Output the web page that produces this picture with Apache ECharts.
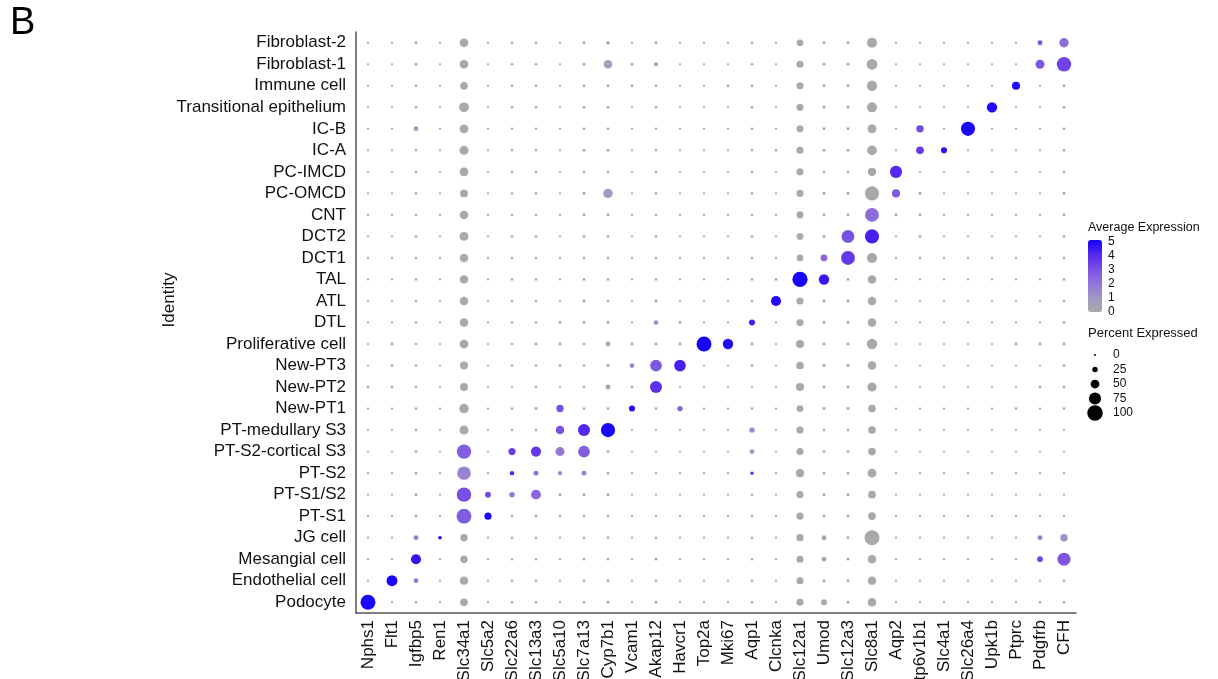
<!DOCTYPE html>
<html>
<head>
<meta charset="utf-8">
<script src="https://cdn.jsdelivr.net/npm/echarts@6/dist/echarts.min.js"></script>
<style>
  html, body { margin: 0; padding: 0; background: #fff; }
  #chart { width: 1218px; height: 679px; }
</style>
</head>
<body>
<div id="chart"></div>
<script>
// genes on x, identities on y (top to bottom)
const genes = ["Nphs1", "Flt1", "Igfbp5", "Ren1", "Slc34a1", "Slc5a2", "Slc22a6", "Slc13a3", "Slc5a10", "Slc7a13",
  "Cyp7b1", "Vcam1", "Akap12", "Havcr1", "Top2a", "Mki67", "Aqp1", "Clcnka", "Slc12a1", "Umod",
  "Slc12a3", "Slc8a1", "Aqp2", "Atp6v1b1", "Slc4a1", "Slc26a4", "Upk1b", "Ptprc", "Pdgfrb", "CFH"];

const identities = ["Fibroblast-2", "Fibroblast-1", "Immune cell", "Transitional epithelium", "IC-B", "IC-A",
  "PC-IMCD", "PC-OMCD", "CNT", "DCT2", "DCT1", "TAL", "ATL", "DTL", "Proliferative cell", "New-PT3",
  "New-PT2", "New-PT1", "PT-medullary S3", "PT-S2-cortical S3", "PT-S2", "PT-S1/S2", "PT-S1", "JG cell",
  "Mesangial cell", "Endothelial cell", "Podocyte"];

// percent expressed, one row per identity (same order as identities)
const pctExpressed = [
  [2,2,6,2,50,2,5,5,2,6, 12,2,6,2,2,2,5,2,35,7, 7,60,2,2,2,2,2,2,22,55],
  [2,2,6,2,50,2,4,4,2,6, 50,6,15,2,2,2,4,2,38,7, 7,65,2,2,2,2,2,2,52,92],
  [2,2,4,2,42,2,4,4,2,5, 6,6,4,2,2,5,5,2,38,7, 7,62,2,2,2,2,2,45,2,6],
  [2,2,4,2,58,2,4,4,2,6, 6,2,4,2,2,2,5,2,38,7, 7,60,2,2,2,2,62,2,2,6],
  [2,2,22,2,50,2,4,4,2,6, 6,2,4,2,2,2,5,2,38,7, 7,52,2,40,2,90,2,2,2,6],
  [2,2,4,2,52,2,4,4,2,7, 7,2,4,2,2,2,4,5,38,7, 7,58,2,42,30,2,2,2,2,6],
  [2,2,5,2,50,2,6,4,2,6, 7,2,4,2,2,2,4,2,38,7, 7,48,75,2,2,2,2,2,2,6],
  [2,2,4,2,44,2,3,4,2,6, 55,2,4,2,2,2,4,2,38,7, 7,90,45,6,2,2,2,2,2,5],
  [2,2,4,2,48,2,4,4,2,6, 6,2,4,2,2,2,4,2,38,7, 7,88,6,5,2,2,2,2,2,5],
  [2,2,4,2,50,2,3,4,2,6, 5,2,5,2,2,2,4,2,36,7, 80,90,2,6,2,2,2,2,2,5],
  [2,2,4,2,48,2,4,4,2,6, 5,2,4,2,2,2,4,2,35,35, 88,60,2,5,2,2,2,2,2,5],
  [2,2,4,2,46,2,4,4,2,6, 5,2,4,2,2,2,4,6,98,62, 6,48,2,2,2,2,2,2,2,5],
  [2,2,4,2,48,2,4,4,2,6, 5,2,6,2,2,2,4,60,38,7, 7,48,2,2,2,2,2,2,2,5],
  [2,2,4,2,48,2,4,4,6,6, 7,2,18,6,2,2,30,2,38,7, 7,48,2,2,2,2,2,2,2,5],
  [2,6,4,2,50,2,4,7,6,5, 22,6,7,6,96,62,6,2,45,7, 7,62,2,2,2,2,2,6,6,6],
  [2,6,4,2,44,2,4,4,6,4, 7,20,72,72,2,2,6,2,42,7, 7,48,2,2,2,2,2,2,2,5],
  [5,5,4,2,44,2,2,4,2,4, 22,6,74,2,2,2,2,2,45,7, 7,52,2,2,2,2,2,2,6,5],
  [2,2,4,2,55,2,4,7,40,4, 6,30,6,25,2,2,5,2,36,7, 7,42,2,2,2,2,2,5,2,5],
  [2,2,5,2,52,2,4,6,48,74, 90,2,2,2,2,2,25,2,38,6, 6,42,2,2,2,2,2,2,2,2],
  [2,2,6,2,92,2,38,60,52,72, 6,2,2,2,2,2,20,2,38,6, 6,42,2,2,2,2,2,2,2,2],
  [2,2,4,2,85,2,18,22,15,22, 6,2,2,2,2,2,8,2,45,6, 6,50,2,2,2,2,2,2,2,2],
  [2,2,6,2,92,28,25,58,6,6, 6,2,2,2,2,2,4,2,38,6, 6,42,2,2,2,2,2,2,2,2],
  [2,2,6,2,95,38,5,6,5,5, 5,2,2,2,2,2,5,2,38,6, 6,42,2,2,2,2,2,2,2,2],
  [2,2,22,12,40,2,3,4,2,4, 5,2,4,2,2,2,4,2,38,22, 6,96,2,2,2,2,2,2,22,40],
  [2,2,60,2,40,2,3,4,2,5, 5,2,6,2,2,2,4,2,38,20, 6,48,2,2,2,2,2,2,28,82],
  [2,66,20,2,46,2,4,4,2,5, 6,2,4,2,2,2,4,2,38,8, 6,48,2,2,2,2,2,2,2,4],
  [96,2,3,2,42,2,4,4,2,5, 7,2,6,2,2,2,4,2,38,28, 6,48,2,2,2,2,2,2,3,4]
];

// average expression, same layout
const avgExpression = [
  [0,0,0,0,0,0,0,0,0,0, 0,0,0,0,0,0,0,0,0,0, 0,0,0,0,0,0,0,0,3.0,2.2],
  [0,0,0,0,0,0,0,0,0,0, 0.5,0,0.4,0,0,0,0,0,0,0, 0,0,0,0,0,0,0,0,2.8,3.3],
  [0,0,0,0,0,0,0,0,0,0, 0,0,0,0,0,0,0,0,0,0, 0,0,0,0,0,0,0,4.8,0,0],
  [0,0,0,0,0,0,0,0,0,0, 0,0,0,0,0,0,0,0,0,0, 0,0,0,0,0,0,4.8,0,0,0],
  [0,0,0.8,0,0,0,0,0,0,0, 0,0,0,0,0,0,0,0,0,0, 0,0,0,3.2,0,4.9,0,0,0,0],
  [0,0,0,0,0,0,0,0,0,0, 0,0,0,0,0,0,0,0,0,0, 0,0,0,3.6,4.6,0,0,0,0,0],
  [0,0,0,0,0,0,0,0,0,0, 0,0,0,0,0,0,0,0,0,0, 0,0,4.0,0,0,0,0,0,0,0],
  [0,0,0,0,0,0,0,0,0,0, 0.8,0,0,0,0,0,0,0,0,0, 0,0,2.8,0.5,0,0,0,0,0,0],
  [0,0,0,0,0,0,0,0,0,0, 0,0,0,0,0,0,0,0,0,0, 0,2.2,0.6,0,0,0,0,0,0,0],
  [0,0,0,0,0,0,0,0,0,0, 0,0,0,0,0,0,0,0,0,0, 3.0,4.2,0,0,0,0,0,0,0,0],
  [0,0,0,0,0,0,0,0,0,0, 0,0,0,0,0,0,0,0,0,2.3, 3.6,0,0,0,0,0,0,0,0,0],
  [0,0,0,0,0,0,0,0,0,0, 0,0,0,0,0,0,0,0,5.0,4.4, 0,0,0,0,0,0,0,0,0,0],
  [0,0,0,0,0,0,0,0,0,0, 0,0,0,0,0,0,0,4.8,0,0, 0,0,0,0,0,0,0,0,0,0],
  [0,0,0,0,0,0,0,0,0,0, 0,0,1.2,0,0,0,4.2,0,0,0, 0,0,0,0,0,0,0,0,0,0],
  [0,0,0,0,0,0,0,0,0,0, 0,0,0,0,5.0,4.8,0,0,0,0, 0,0,0,0,0,0,0,0,0,0],
  [0,0,0,0,0,0,0,0,0,0, 0,1.6,2.8,4.2,0,0,0,0,0,0, 0,0,0,0,0,0,0,0,0,0],
  [0,0,0,0,0,0,0,0,0,0, 0,0,3.8,0,0,0,0,0,0,0, 0,0,0,0,0,0,0,0,0,0],
  [0,0,0,0,0,0,0,0,3.0,0, 0,4.8,0,2.5,0,0,0,0,0,0, 0,0,0,0,0,0,0,0,0,0],
  [0,0,0,0,0,0,0,0,3.0,4.0, 4.9,0,0,0,0,0,1.4,0,0,0, 0,0,0,0,0,0,0,0,0,0],
  [0,0,0,0,2.6,0,3.4,3.6,1.8,2.6, 0,0,0,0,0,0,0.8,0,0,0, 0,0,0,0,0,0,0,0,0,0],
  [0,0,0,0,1.6,0,4.0,2.2,1.5,1.6, 0,0,0,0,0,0,4.2,0,0,0, 0,0,0,0,0,0,0,0,0,0],
  [0,0,0,0,3.0,3.2,2.0,2.4,0,0, 0,0,0,0,0,0,0,0,0,0, 0,0,0,0,0,0,0,0,0,0],
  [0,0,0,0,2.7,4.8,0,0,0,0, 0,0,0,0,0,0,0,0,0,0, 0,0,0,0,0,0,0,0,0,0],
  [0,0,1.6,4.8,0,0,0,0,0,0, 0,0,0,0,0,0,0,0,0,0, 0,0,0,0,0,0,0,0,1.6,1.0],
  [0,0,4.5,0,0,0,0,0,0,0, 0,0,0,0,0,0,0,0,0,0, 0,0,0,0,0,0,0,0,3.2,2.8],
  [0,4.9,2.0,0,0,0,0,0,0,0, 0,0,0,0,0,0,0,0,0,0, 0,0,0,0,0,0,0,0,0,0],
  [4.9,0,0,0,0,0,0,0,0,0, 0,0,0,0,0,0,0,0,0,0, 0,0,0,0,0,0,0,0,0,0]
];

// legend tick labels
const exprTicks = [0, 1, 2, 3, 4, 5];
const pctTicks = [0, 25, 50, 75, 100];

const exprColors = ["#a9a9a9", "#a096c6", "#9274da", "#7a50e2", "#5428ee", "#1400fb"];
const font = '"Liberation Sans", Arial, sans-serif';

function dotSize(pct) {
  return 2 + 0.135 * pct;
}

let points = [];
identities.forEach((name, r) => {
  genes.forEach((g, c) => {
    points.push([c, r, pctExpressed[r][c], avgExpression[r][c]]);
  });
});

let chart = echarts.init(document.getElementById("chart"));

// legend pieces (color bar labels, size circles)
let graphics = [
  { type: "text", x: 10, y: 5, style: { text: "B", font: "38px " + font, fill: "#000" } },
  { type: "text", x: 169, y: 300, rotation: Math.PI / 2,
    style: { text: "Identity", font: "17px " + font, fill: "#111", align: "center", verticalAlign: "middle" } },
  { type: "text", x: 1088, y: 228,
    style: { text: "Average Expression", font: "12.5px " + font, fill: "#111", verticalAlign: "middle" } },
  { type: "text", x: 1088, y: 333,
    style: { text: "Percent Expressed", font: "13px " + font, fill: "#111", verticalAlign: "middle" } }
];
exprTicks.forEach((t, i) => {
  graphics.push({ type: "text", x: 1108, y: 312 - i * 14,
    style: { text: String(t), font: "12px " + font, fill: "#111", verticalAlign: "middle" } });
});
pctTicks.forEach((t, i) => {
  let cy = 355 + i * 14.5;
  graphics.push({ type: "circle", shape: { cx: 1095, cy: cy, r: dotSize(t) / 2 }, style: { fill: "#000" } });
  graphics.push({ type: "text", x: 1113, y: cy,
    style: { text: String(t), font: "12px " + font, fill: "#111", verticalAlign: "middle" } });
});

chart.setOption({
  backgroundColor: "#fff",
  animation: false,
  grid: { left: 356, right: 142, top: 32, bottom: 66, containLabel: false, outerBoundsMode: "none" },
  xAxis: {
    type: "category",
    data: genes,
    axisLine: { lineStyle: { color: "#555", width: 1.5 } },
    axisTick: { alignWithLabel: true, length: 4, lineStyle: { color: "#555" } },
    axisLabel: { rotate: 90, interval: 0, fontSize: 17, color: "#111", fontFamily: font, margin: 7 },
    splitLine: { show: false }
  },
  yAxis: {
    type: "category",
    data: identities,
    inverse: true,
    axisLine: { lineStyle: { color: "#555", width: 1.5 } },
    axisTick: { alignWithLabel: true, length: 4, lineStyle: { color: "#555" } },
    axisLabel: { interval: 0, fontSize: 17, color: "#111", fontFamily: font, margin: 10 },
    splitLine: { show: false }
  },
  visualMap: {
    type: "continuous",
    dimension: 3,
    min: 0,
    max: 5,
    calculable: false,
    orient: "vertical",
    left: 1088,
    top: 240,
    itemWidth: 14,
    itemHeight: 72,
    text: null,
    padding: 0,
    inRange: { color: exprColors },
    seriesIndex: 0
  },
  graphic: graphics,
  series: [
    {
      type: "scatter",
      data: points,
      symbolSize: function (v) { return dotSize(v[2]); },
      itemStyle: { opacity: 1 }
    }
  ]
});
</script>
</body>
</html>
